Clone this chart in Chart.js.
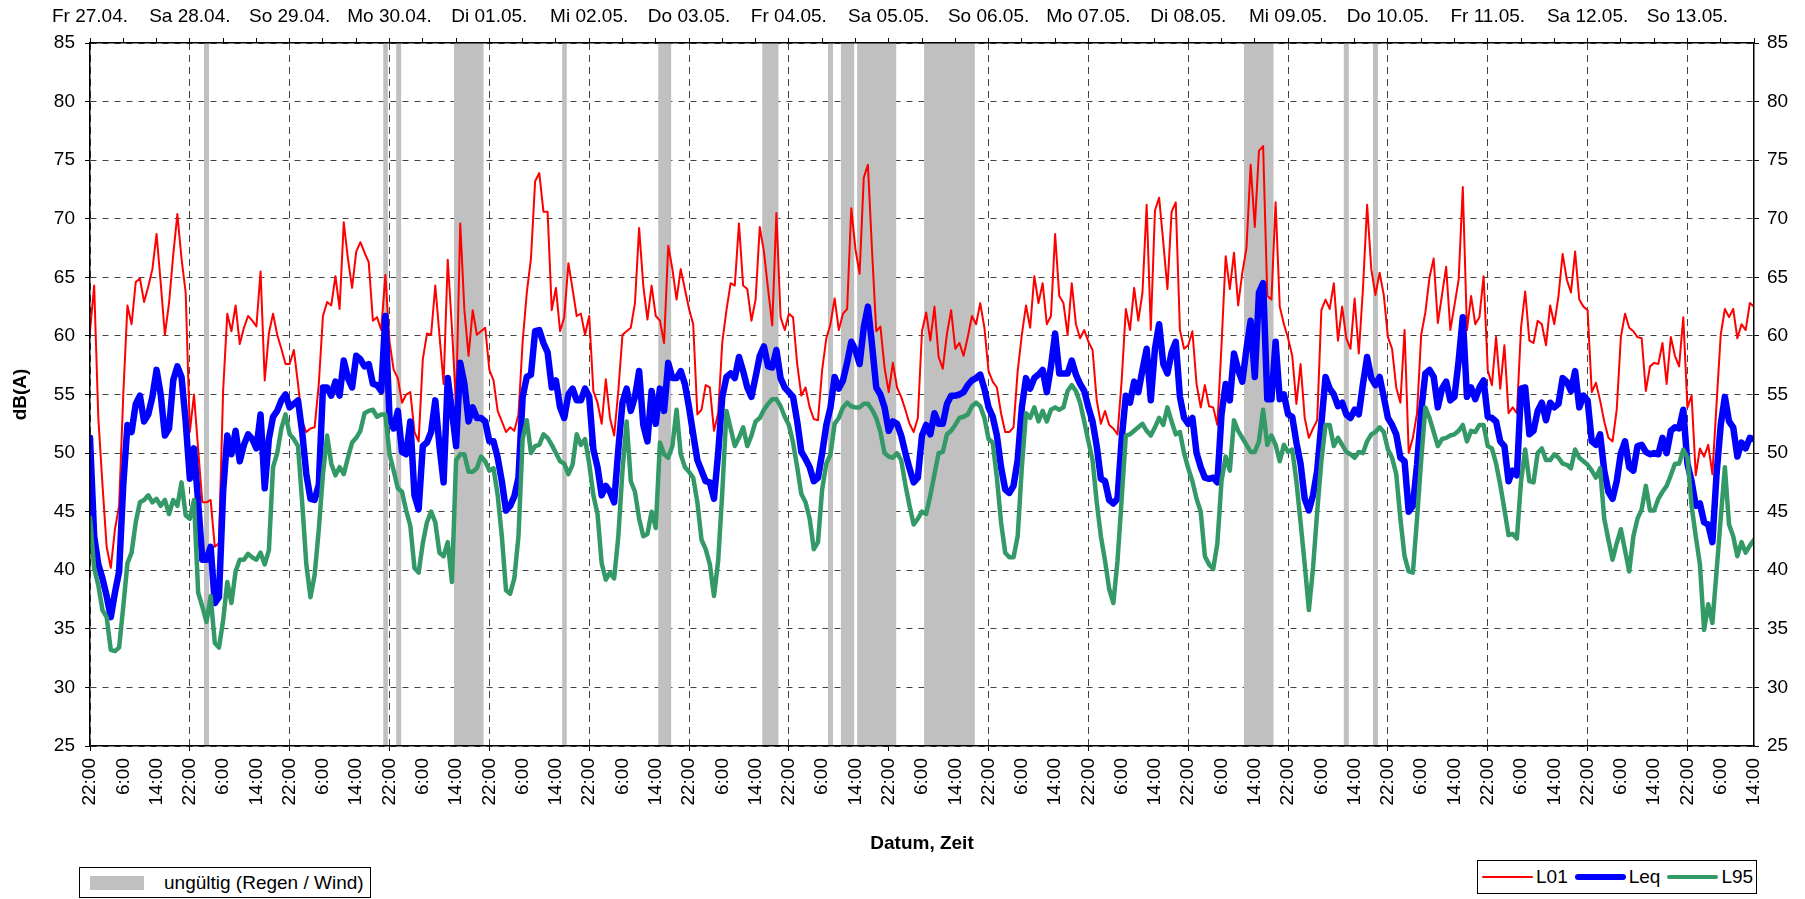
<!DOCTYPE html>
<html lang="de">
<head>
<meta charset="utf-8">
<title>Schallpegel L01 / Leq / L95</title>
<script src="https://cdn.jsdelivr.net/npm/chart.js@4.4.1/dist/chart.umd.min.js"></script>
<style>
  html, body { margin: 0; padding: 0; background: #fff; }
  #wrap { position: relative; width: 1805px; height: 899px; font-family: 'Liberation Sans', Arial, sans-serif; color: #000; }
  #grafico { position: absolute; left: 0; top: 0; }
  .legend { position: absolute; box-sizing: border-box; border: 1px solid #000; background: #fff; display: flex; align-items: center; font-size: 19px; }
  #legendBand { left: 79px; top: 867px; width: 292px; height: 31px; padding-left: 10px; }
  #legendBand .swatch { display: inline-block; width: 54px; height: 14px; margin-right: 20px; }
  #legendLines { left: 1477px; top: 860px; width: 280px; height: 34px; padding-left: 4px; }
  #legendLines .item { display: flex; align-items: center; margin-right: 7px; }
  #legendLines .line { display: inline-block; width: 51px; border-radius: 4px; margin-right: 3px; }
</style>
</head>
<body>
<div id="wrap">
  <canvas id="grafico" width="1805" height="899"></canvas>
  <div class="legend" id="legendBand"><span class="swatch"></span><span>ungültig (Regen / Wind)</span></div>
  <div class="legend" id="legendLines"></div>
</div>
<script>
// === Datos ===
// Stunden ab Fr 27.04. 22:00, ein Wert pro Stunde (Zeile = ein Tag ab 22:00)
var dayLabels = ['Fr 27.04.', 'Sa 28.04.', 'So 29.04.', 'Mo 30.04.', 'Di 01.05.', 'Mi 02.05.', 'Do 03.05.', 'Fr 04.05.',
  'Sa 05.05.', 'So 06.05.', 'Mo 07.05.', 'Di 08.05.', 'Mi 09.05.', 'Do 10.05.', 'Fr 11.05.', 'Sa 12.05.', 'So 13.05.'];
var timeLabels = ['22:00', '6:00', '14:00'];

// ungültige Zeiträume (Regen / Wind), in Stunden
var bandStart = [27.4, 70.5, 73.6, 87.5, 113.5, 136.6, 161.6, 177.4, 180.5, 184.4, 200.5, 277.4, 301.4, 308.4];
var bandEnd   = [28.6, 71.6, 74.8, 94.6, 114.6, 139.7, 165.5, 178.6, 183.7, 193.8, 212.7, 284.5, 302.6, 309.6];

var L01 = [
  60.4, 64.3, 53.0, 47.3, 42.0, 40.2, 43.5, 45.5, 55.0, 62.6, 61.0, 64.6, 64.9, 62.9, 64.2, 65.7, 68.7, 64.5, 60.1, 62.8, 66.9, 70.4, 66.6, 63.7,
  51.8, 55.0, 50.3, 45.8, 45.8, 46.0, 42.0, 42.3, 55.3, 61.9, 60.4, 62.6, 59.3, 60.7, 61.7, 61.3, 60.8, 65.5, 56.2, 60.2, 61.9, 60.1, 58.9, 57.6,
  57.6, 58.8, 55.9, 52.7, 51.8, 52.1, 52.2, 55.9, 61.7, 62.9, 62.6, 65.1, 62.3, 69.7, 66.6, 64.1, 67.2, 68.0, 67.1, 66.3, 61.3, 61.6, 60.5, 65.2,
  59.5, 57.1, 56.4, 54.3, 55.0, 55.2, 51.8, 51.0, 58.0, 60.2, 60.1, 64.3, 60.1, 55.9, 66.5, 60.7, 54.0, 69.6, 62.2, 58.3, 62.2, 60.1, 60.4, 60.7,
  57.1, 56.2, 53.6, 52.7, 51.8, 52.2, 51.9, 53.3, 59.5, 63.7, 66.6, 73.2, 73.9, 70.6, 70.6, 62.2, 64.1, 60.4, 61.6, 66.2, 64.0, 61.7, 61.9, 60.1,
  61.7, 55.3, 54.3, 52.5, 56.3, 53.0, 51.5, 55.3, 60.1, 60.4, 60.7, 62.8, 69.2, 64.3, 61.4, 64.3, 61.7, 61.3, 59.4, 67.7, 65.7, 63.1, 65.7, 64.0,
  62.3, 61.0, 53.3, 53.7, 55.8, 55.6, 51.9, 53.4, 59.5, 62.2, 64.5, 64.3, 69.6, 64.3, 64.0, 61.3, 63.1, 69.3, 67.2, 64.0, 60.9, 70.5, 61.6, 60.5,
  61.9, 61.6, 57.6, 54.9, 55.6, 53.9, 52.9, 52.8, 57.1, 59.8, 61.0, 63.2, 60.5, 61.9, 62.3, 70.9, 67.4, 65.3, 73.5, 74.6, 67.2, 60.4, 60.8, 57.3,
  55.2, 57.7, 55.6, 54.8, 53.7, 52.5, 51.8, 53.0, 60.4, 62.0, 59.6, 62.5, 58.2, 57.2, 60.2, 62.2, 58.9, 59.4, 58.3, 59.9, 61.7, 61.0, 62.8, 60.7,
  57.0, 56.1, 55.6, 53.4, 51.8, 51.8, 52.2, 57.0, 60.1, 62.6, 60.7, 65.1, 62.8, 64.5, 61.0, 61.7, 68.7, 63.4, 62.8, 60.1, 64.5, 61.0, 59.8, 60.5,
  59.5, 58.8, 54.5, 52.5, 53.6, 52.4, 52.1, 51.6, 56.2, 62.3, 60.5, 64.1, 61.3, 63.7, 71.2, 60.5, 70.7, 71.8, 68.0, 64.0, 70.6, 71.4, 60.5, 58.9,
  59.2, 60.4, 55.9, 53.9, 55.8, 54.0, 53.9, 52.4, 59.2, 66.8, 64.0, 67.1, 62.6, 65.4, 67.5, 74.6, 69.3, 75.8, 76.2, 63.4, 63.1, 71.4, 62.5, 61.0,
  59.8, 58.3, 54.2, 57.6, 53.0, 51.3, 52.1, 52.8, 62.2, 63.1, 62.3, 64.5, 59.6, 62.5, 59.8, 58.9, 63.2, 58.5, 64.0, 71.2, 65.7, 63.5, 65.4, 63.5,
  59.9, 58.9, 55.6, 54.3, 60.5, 50.0, 51.3, 53.4, 60.1, 62.0, 65.0, 66.6, 61.1, 63.5, 65.9, 60.5, 62.6, 64.8, 72.7, 60.5, 63.4, 61.0, 61.6, 65.1,
  57.1, 55.8, 59.9, 55.5, 59.2, 53.4, 53.9, 53.4, 60.7, 63.8, 59.6, 59.4, 61.3, 61.0, 59.2, 62.6, 61.0, 63.4, 67.0, 64.8, 63.7, 67.2, 63.1, 62.5,
  62.2, 55.2, 56.0, 54.5, 52.7, 51.3, 51.0, 53.7, 59.9, 61.9, 60.7, 60.4, 59.9, 59.8, 55.3, 57.4, 57.7, 57.6, 59.4, 55.9, 59.9, 58.3, 57.4, 61.6,
  53.9, 54.9, 48.1, 50.4, 49.7, 50.7, 48.2, 54.2, 60.1, 62.3, 61.6, 62.3, 59.8, 61.0, 60.5, 62.8, 62.5
];

var Leq = [
  51.3, 42.9, 40.5, 39.3, 37.8, 36.0, 38.1, 39.9, 47.3, 52.4, 51.8, 54.2, 54.9, 52.7, 53.3, 54.8, 57.1, 55.0, 51.5, 52.1, 56.2, 57.4, 56.5, 52.7,
  47.8, 50.4, 45.8, 40.9, 40.9, 42.0, 37.2, 37.7, 46.7, 51.5, 49.9, 51.9, 49.3, 50.7, 51.6, 51.2, 50.4, 53.3, 47.0, 51.2, 53.1, 53.6, 54.5, 55.0,
  53.9, 54.2, 54.5, 51.8, 48.2, 46.1, 46.0, 47.3, 55.6, 55.6, 54.9, 56.1, 54.9, 57.9, 56.4, 55.6, 58.3, 58.0, 57.4, 57.6, 55.9, 55.8, 55.3, 61.7,
  53.0, 52.1, 53.6, 50.1, 49.9, 52.7, 46.4, 45.2, 50.6, 50.9, 51.8, 54.5, 50.6, 47.5, 56.4, 53.6, 50.6, 57.7, 55.9, 52.7, 53.9, 53.0, 53.0, 52.7,
  51.0, 51.0, 49.6, 47.6, 45.1, 45.5, 46.3, 47.9, 54.8, 56.5, 56.7, 60.4, 60.5, 59.4, 58.6, 55.6, 56.2, 53.9, 53.0, 55.0, 55.5, 54.5, 54.5, 55.5,
  54.8, 50.3, 48.8, 46.4, 47.2, 46.7, 45.8, 50.3, 54.3, 55.5, 53.6, 54.8, 57.0, 52.4, 51.0, 55.3, 52.5, 55.5, 53.6, 57.7, 56.4, 56.4, 57.0, 55.9,
  53.9, 51.6, 49.4, 48.5, 47.6, 47.5, 46.1, 50.0, 54.8, 56.5, 56.8, 56.4, 58.2, 57.0, 55.6, 54.8, 56.5, 58.3, 59.1, 57.4, 57.3, 58.8, 56.4, 55.6,
  55.2, 54.8, 52.7, 50.1, 49.5, 48.8, 47.6, 47.9, 50.0, 52.4, 53.9, 56.5, 55.5, 56.2, 57.7, 59.5, 58.8, 57.6, 60.7, 62.5, 59.2, 55.6, 55.0, 53.9,
  51.9, 52.7, 52.5, 51.5, 50.0, 48.7, 47.5, 47.9, 51.5, 52.4, 51.6, 53.4, 52.5, 52.5, 54.2, 54.9, 54.9, 55.0, 55.2, 55.8, 56.2, 56.4, 56.7, 55.5,
  53.9, 53.1, 51.5, 48.8, 46.9, 46.6, 47.2, 49.4, 53.9, 56.4, 55.5, 56.4, 56.7, 57.1, 55.2, 57.4, 60.2, 56.8, 56.8, 56.8, 57.9, 56.7, 55.9, 55.3,
  53.9, 52.7, 50.6, 47.8, 47.6, 46.0, 45.7, 46.1, 51.2, 54.9, 54.3, 56.1, 55.2, 57.1, 58.9, 54.5, 58.9, 61.0, 57.6, 56.8, 58.6, 59.5, 54.8, 53.0,
  52.5, 53.0, 50.0, 48.8, 47.9, 47.8, 47.9, 47.5, 53.3, 55.9, 54.5, 58.5, 57.1, 56.1, 58.9, 61.3, 56.5, 63.7, 64.5, 54.6, 54.6, 59.5, 54.6, 55.0,
  53.3, 53.1, 50.9, 49.1, 46.1, 45.1, 46.4, 48.5, 52.5, 56.5, 55.5, 55.0, 54.0, 54.3, 53.3, 53.0, 53.7, 53.3, 55.9, 58.2, 56.4, 55.8, 56.5, 54.8,
  53.0, 52.4, 51.6, 49.6, 49.3, 45.0, 45.5, 49.0, 53.6, 56.8, 57.1, 56.5, 53.9, 55.5, 56.1, 54.5, 54.8, 57.9, 61.6, 54.8, 55.6, 54.6, 55.6, 56.2,
  53.1, 53.0, 52.7, 51.0, 50.6, 47.6, 48.5, 48.1, 55.5, 55.6, 51.6, 51.9, 53.6, 54.3, 52.8, 54.3, 53.9, 54.2, 56.4, 56.1, 55.3, 57.0, 53.9, 54.9,
  54.5, 51.0, 50.7, 51.6, 48.5, 46.7, 46.1, 47.6, 50.0, 51.0, 48.8, 48.5, 50.6, 50.7, 50.1, 49.9, 50.0, 49.9, 51.3, 50.0, 51.9, 52.2, 52.1, 53.7,
  49.1, 47.6, 45.5, 45.7, 44.1, 43.9, 42.4, 48.2, 52.4, 54.8, 52.7, 52.2, 49.7, 50.9, 50.4, 51.3, 51.2
];

var L95 = [
  44.5, 40.2, 38.7, 36.6, 36.0, 33.2, 33.1, 33.4, 36.9, 40.6, 41.5, 44.1, 45.8, 46.0, 46.4, 45.8, 46.1, 45.5, 46.0, 44.8, 46.0, 45.5, 47.5, 44.7,
  44.4, 46.0, 38.1, 36.9, 35.6, 37.8, 33.8, 33.4, 35.7, 39.0, 37.2, 39.9, 40.9, 40.9, 41.4, 41.1, 40.9, 41.5, 40.5, 41.7, 48.8, 50.0, 52.1, 53.3,
  51.6, 51.2, 50.6, 45.8, 40.5, 37.7, 39.6, 43.5, 48.2, 51.5, 49.1, 48.1, 48.8, 48.2, 49.6, 50.9, 51.3, 51.9, 53.4, 53.6, 53.7, 53.1, 53.3, 53.3,
  49.9, 48.5, 47.0, 46.7, 45.1, 43.8, 40.2, 39.8, 42.3, 44.1, 45.0, 44.1, 41.5, 41.2, 42.4, 39.0, 49.4, 49.9, 49.9, 48.4, 48.4, 48.7, 49.7, 49.3,
  48.5, 48.7, 46.4, 42.9, 38.3, 38.0, 39.3, 42.9, 51.2, 52.8, 50.0, 50.6, 50.7, 51.6, 51.3, 50.7, 50.0, 49.3, 49.1, 48.2, 49.0, 51.6, 50.7, 51.2,
  49.1, 46.4, 44.8, 40.6, 39.2, 39.8, 39.3, 42.9, 48.5, 52.7, 47.6, 46.7, 44.4, 42.9, 43.1, 45.0, 43.6, 50.9, 49.9, 49.6, 50.6, 53.7, 49.9, 48.8,
  48.4, 47.9, 45.8, 42.6, 41.8, 40.5, 37.8, 40.8, 46.7, 53.6, 52.1, 50.6, 51.3, 52.2, 50.6, 51.5, 52.7, 53.0, 53.7, 54.2, 54.6, 54.6, 54.0, 53.1,
  52.4, 50.9, 48.8, 46.5, 45.8, 44.4, 41.8, 42.4, 46.9, 49.1, 49.9, 52.5, 53.0, 53.9, 54.3, 54.0, 53.9, 53.9, 54.2, 54.2, 53.7, 53.0, 51.8, 50.0,
  49.7, 49.6, 50.0, 49.4, 47.3, 45.5, 43.9, 44.4, 45.0, 44.8, 46.4, 48.2, 50.0, 50.1, 51.6, 51.9, 52.4, 53.0, 53.1, 53.3, 54.0, 54.3, 54.0, 53.0,
  51.2, 50.9, 47.9, 44.1, 41.5, 41.1, 41.1, 42.9, 48.8, 53.4, 53.0, 53.9, 52.7, 53.6, 52.7, 53.7, 53.9, 53.7, 53.9, 55.3, 55.8, 55.3, 54.3, 52.7,
  51.0, 49.4, 45.8, 42.9, 40.8, 38.4, 37.2, 40.8, 46.1, 51.5, 51.6, 51.9, 52.2, 52.5, 51.9, 51.5, 52.2, 53.0, 52.4, 53.9, 52.7, 51.6, 51.8, 50.0,
  48.7, 47.6, 46.1, 45.0, 41.2, 40.5, 40.1, 42.3, 47.6, 49.7, 48.5, 52.8, 51.9, 51.3, 50.7, 50.1, 50.1, 51.0, 53.7, 50.7, 51.5, 50.7, 49.3, 50.7,
  50.1, 50.3, 47.6, 44.1, 40.5, 36.6, 40.2, 45.0, 49.3, 52.4, 52.4, 50.6, 51.3, 50.7, 50.1, 49.9, 49.6, 50.1, 50.0, 51.0, 51.6, 51.8, 52.2, 51.8,
  50.3, 49.6, 48.2, 44.4, 41.2, 39.9, 39.8, 44.4, 49.4, 53.9, 53.0, 51.8, 50.6, 51.2, 51.3, 51.5, 51.6, 51.9, 52.4, 51.0, 51.9, 51.8, 52.4, 52.4,
  50.6, 50.4, 49.1, 47.3, 45.2, 43.0, 43.1, 42.7, 47.6, 50.3, 47.6, 47.5, 50.0, 50.4, 49.4, 49.4, 49.9, 49.6, 49.1, 49.0, 48.7, 50.3, 49.6, 49.3,
  49.0, 48.5, 47.9, 48.7, 44.4, 42.6, 40.9, 42.3, 43.5, 41.7, 39.9, 42.9, 44.4, 45.2, 47.2, 45.1, 45.1, 46.1, 46.7, 47.2, 48.1, 49.1, 49.1, 50.3,
  49.6, 45.5, 42.9, 40.5, 34.9, 37.1, 35.5, 39.9, 44.4, 48.8, 43.9, 42.9, 41.2, 42.4, 41.5, 42.1, 42.6
];

document.addEventListener('DOMContentLoaded', function () {
  // === Farben ===
  var C_L01   = '#FF0000';
  var C_LEQ   = '#0000FF';
  var C_L95   = '#339966';
  var C_BAND  = '#C0C0C0';
  var C_GRID  = '#444444';
  var C_AXIS  = '#000000';
  var FONT    = "'Liberation Sans', Arial, sans-serif";

  var hours = L01.map(function (_, i) { return i; });

  Chart.defaults.font.family = FONT;
  Chart.defaults.font.size = 19;
  Chart.defaults.color = '#000';

  // graue Balken für ungültige Zeiträume, über Gitter, unter den Linien
  var invalidBands = {
    id: 'invalidBands',
    beforeDatasetsDraw: function (chart) {
      var ctx = chart.ctx, area = chart.chartArea, x = chart.scales.x;
      ctx.save();
      ctx.fillStyle = C_BAND;
      for (var i = 0; i < bandStart.length; i++) {
        var x1 = x.getPixelForValue(bandStart[i]);
        var x2 = x.getPixelForValue(bandEnd[i]);
        ctx.fillRect(x1, area.top, x2 - x1, area.bottom - area.top);
      }
      ctx.restore();
    }
  };

  // Legende als HTML (zwei Kästen unten)
  var htmlLegend = {
    id: 'htmlLegend',
    afterUpdate: function (chart) {
      document.querySelector('#legendBand .swatch').style.background = C_BAND;
      var box = document.getElementById('legendLines');
      box.innerHTML = '';
      chart.data.datasets.forEach(function (ds) {
        var item = document.createElement('span');
        item.className = 'item';
        var line = document.createElement('span');
        line.className = 'line';
        line.style.background = ds.borderColor;
        line.style.height = ds.borderWidth + 'px';
        var txt = document.createElement('span');
        txt.textContent = ds.label;
        item.appendChild(line);
        item.appendChild(txt);
        box.appendChild(item);
      });
    }
  };

  function lineSet(label, data, color, width, order) {
    return {
      label: label,
      data: data,
      xAxisID: 'x',
      yAxisID: 'y',
      borderColor: color,
      backgroundColor: color,
      borderWidth: width,
      pointRadius: 0,
      tension: 0,
      borderJoinStyle: 'round',
      borderCapStyle: 'round',
      order: order
    };
  }

  var config = {
    type: 'line',
    data: {
      labels: hours,
      datasets: [
        lineSet('L01', L01, C_L01, 2, 3),
        lineSet('Leq', Leq, C_LEQ, 6.5, 2),
        lineSet('L95', L95, C_L95, 4.5, 1)
      ]
    },
    options: {
      responsive: false,
      animation: false,
      events: [],
      layout: { padding: 0 },
      plugins: {
        legend: { display: false },
        tooltip: { enabled: false }
      },
      scales: {
        x: {
          type: 'linear',
          position: 'bottom',
          min: 0,
          max: 400,
          afterFit: function (s) { s.height = 153; },
          ticks: {
            stepSize: 8,
            autoSkip: false,
            minRotation: 90,
            maxRotation: 90,
            padding: 7,
            callback: function (v) { return timeLabels[(v / 8) % 3]; }
          },
          grid: {
            color: function (c) { return c.tick && c.tick.value % 24 === 0 ? C_GRID : 'rgba(0,0,0,0)'; },
            tickColor: function (c) { return c.tick && c.tick.value % 24 === 0 ? C_AXIS : 'rgba(0,0,0,0)'; },
            tickLength: 5,
            lineWidth: 1
          },
          border: { color: C_AXIS, width: 1.5, dash: [7, 5], z: 1 },
          title: {
            display: true,
            text: 'Datum, Zeit',
            font: { size: 19, weight: 'bold' },
            padding: { top: 0, bottom: 44 }
          }
        },
        x2: {
          type: 'linear',
          position: 'top',
          min: 0,
          max: 400,
          afterFit: function (s) { s.height = 43; },
          ticks: {
            stepSize: 8,
            autoSkip: false,
            maxRotation: 0,
            padding: 10,
            callback: function (v) { return v % 24 === 0 ? dayLabels[v / 24] : ''; }
          },
          grid: { drawOnChartArea: false, tickLength: 5, tickColor: C_AXIS },
          border: { color: C_AXIS, width: 1.5, z: 1 }
        },
        y: {
          position: 'left',
          min: 25,
          max: 85,
          afterFit: function (s) { s.width = 90; },
          ticks: { stepSize: 5, padding: 10 },
          grid: { color: C_GRID, lineWidth: 1, tickColor: C_AXIS, tickLength: 5 },
          border: { color: C_AXIS, width: 1.5, dash: [6, 6], z: 1 },
          title: {
            display: true,
            text: 'dB(A)',
            font: { size: 19, weight: 'bold' },
            padding: { top: 9 }
          }
        },
        yR: {
          position: 'right',
          min: 25,
          max: 85,
          afterFit: function (s) { s.width = 51; },
          ticks: { stepSize: 5, padding: 8 },
          grid: { drawOnChartArea: false, tickColor: C_AXIS, tickLength: 5 },
          border: { color: C_AXIS, width: 1.5, z: 1 }
        }
      }
    },
    plugins: [invalidBands, htmlLegend]
  };

  var canvas = document.getElementById('grafico');
  if (!canvas || typeof Chart === 'undefined') {
    console.error('Canvas #grafico oder Chart.js fehlt.');
    return;
  }
  new Chart(canvas, config);
});
</script>
</body>
</html>
